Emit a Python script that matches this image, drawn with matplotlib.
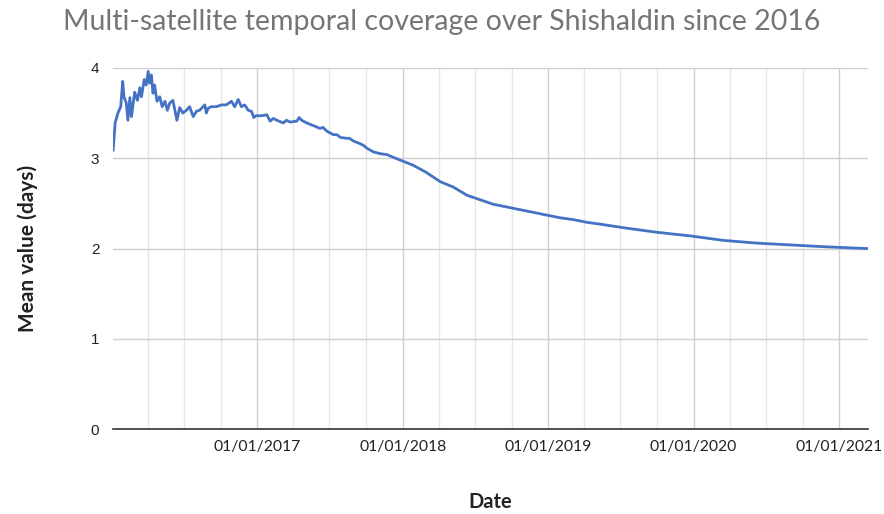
import pandas as pd
import matplotlib.pyplot as plt
import matplotlib.dates as mdates

# values
dates = [
    "2016-01-05", "2016-01-10", "2016-01-17", "2016-01-24", "2016-01-29", "2016-02-01",
    "2016-02-07", "2016-02-11", "2016-02-16", "2016-02-20", "2016-02-28", "2016-03-06",
    "2016-03-12", "2016-03-16", "2016-03-23", "2016-03-28", "2016-04-02", "2016-04-06",
    "2016-04-10", "2016-04-14", "2016-04-18", "2016-04-24", "2016-05-01", "2016-05-07",
    "2016-05-14", "2016-05-20", "2016-05-26", "2016-06-03", "2016-06-08", "2016-06-13",
    "2016-06-20", "2016-06-28", "2016-07-07", "2016-07-15", "2016-07-24", "2016-08-01",
    "2016-08-09", "2016-08-22", "2016-08-26", "2016-08-30", "2016-09-07", "2016-09-20",
    "2016-10-03", "2016-10-15", "2016-10-28", "2016-11-05", "2016-11-14", "2016-11-22",
    "2016-11-30", "2016-12-09", "2016-12-17", "2016-12-23", "2016-12-29",
    "2017-01-11", "2017-01-25", "2017-02-02", "2017-02-10", "2017-02-19", "2017-03-07",
    "2017-03-15", "2017-03-24", "2017-04-10", "2017-04-16", "2017-04-22", "2017-05-05",
    "2017-05-22", "2017-06-07", "2017-06-15", "2017-06-24", "2017-07-11", "2017-07-20",
    "2017-07-28", "2017-08-13", "2017-08-20", "2017-08-30", "2017-09-16", "2017-09-25",
    "2017-10-03", "2017-10-19", "2017-11-05", "2017-11-22", "2017-12-08", "2017-12-25",
    "2018-01-28", "2018-03-02", "2018-04-05", "2018-05-08", "2018-06-11", "2018-07-14",
    "2018-08-16", "2018-09-19", "2018-10-22", "2018-11-25", "2018-12-28",
    "2019-01-31", "2019-03-05", "2019-04-08", "2019-05-11", "2019-07-09", "2019-09-30",
    "2019-12-23", "2020-03-16", "2020-06-07", "2020-08-30", "2020-11-22", "2021-03-10",
]
mean_days = [
    3.09, 3.39, 3.50, 3.57, 3.85, 3.68,
    3.61, 3.42, 3.67, 3.46, 3.73, 3.64,
    3.78, 3.68, 3.87, 3.81, 3.96, 3.83,
    3.92, 3.72, 3.81, 3.63, 3.68, 3.57,
    3.63, 3.53, 3.61, 3.64, 3.53, 3.42,
    3.56, 3.50, 3.53, 3.57, 3.46, 3.52,
    3.53, 3.59, 3.50, 3.55, 3.57, 3.57,
    3.59, 3.59, 3.63, 3.57, 3.65, 3.57,
    3.59, 3.53, 3.52, 3.45, 3.47,
    3.47, 3.48, 3.41, 3.44, 3.42, 3.39,
    3.42, 3.40, 3.41, 3.45, 3.42, 3.39,
    3.36, 3.33, 3.34, 3.30, 3.26, 3.26,
    3.23, 3.22, 3.22, 3.19, 3.16, 3.14,
    3.11, 3.07, 3.05, 3.04, 3.01, 2.98,
    2.92, 2.84, 2.74, 2.68, 2.59, 2.54,
    2.49, 2.46, 2.43, 2.40, 2.37,
    2.34, 2.32, 2.29, 2.27, 2.23, 2.18,
    2.14, 2.09, 2.06, 2.04, 2.02, 2.00,
]
tick_dates = ["2017-01-01", "2018-01-01", "2019-01-01", "2020-01-01", "2021-01-01"]

df = pd.DataFrame({"date": pd.to_datetime(dates), "mean": mean_days})

fig = plt.figure(figsize=(8.84, 5.14), dpi=100)
ax = fig.add_axes([0.128, 0.165, 0.854, 0.703])

ax.plot(df["date"], df["mean"], color="#4472c4", linewidth=2.0, zorder=3)

ax.set_xlim(pd.Timestamp("2016-01-05"), pd.Timestamp("2021-03-14"))
ax.set_ylim(0, 4)
ax.set_yticks([0, 1, 2, 3, 4])

ax.set_xticks(pd.to_datetime(tick_dates))
ax.xaxis.set_major_formatter(mdates.DateFormatter("%d/%m/%Y"))
ax.xaxis.set_minor_locator(mdates.MonthLocator(bymonth=[4, 7, 10]))

ax.grid(True, which="major", color="#cfcfcf", linewidth=1.0)
ax.grid(True, which="minor", axis="x", color="#e6e6e6", linewidth=1.0)
ax.set_axisbelow(True)

for s in ["top", "right", "left"]:
    ax.spines[s].set_visible(False)
ax.spines["bottom"].set_color("#333333")
ax.spines["bottom"].set_linewidth(1.2)
ax.tick_params(which="both", length=0)
ax.tick_params(axis="x", pad=8, labelsize=11.3, labelcolor="#222222")
ax.tick_params(axis="y", pad=10, labelsize=11, labelcolor="#222222")
for lab in ax.get_xticklabels():
    lab.set_family("Lato")
for lab in ax.get_yticklabels():
    lab.set_family("Liberation Sans")

ax.set_xlabel("Date", fontsize=14.5, fontweight="bold", family="Lato", labelpad=27, color="#222222")
ax.set_ylabel("Mean value (days)", fontsize=15, fontweight="bold", family="Lato", labelpad=38, color="#222222")

fig.text(0.5, 0.957, "Multi-satellite temporal coverage over Shishaldin since 2016",
         ha="center", va="center", fontsize=20.5, family="Lato", color="#757575")

fig.savefig("out.png", dpi=100, facecolor="white")
